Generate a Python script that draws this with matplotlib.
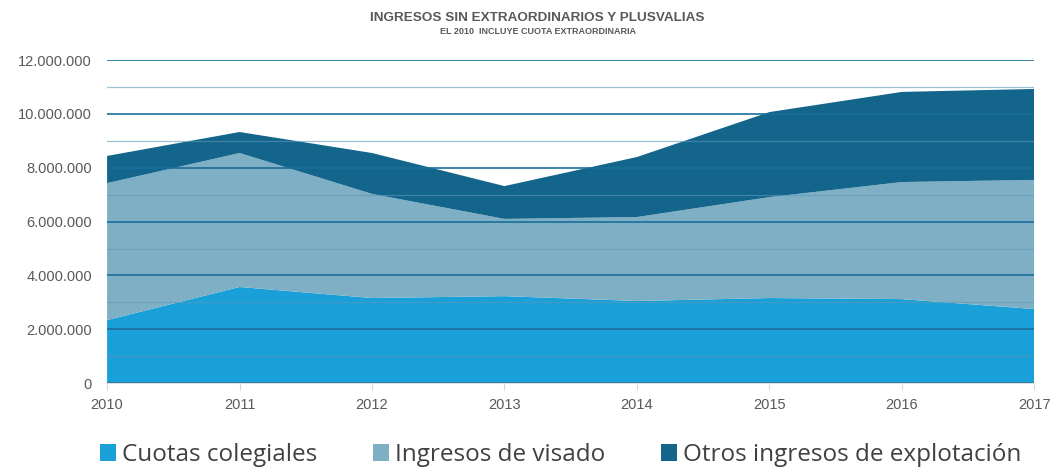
import numpy as np
import matplotlib.pyplot as plt
from matplotlib.ticker import FuncFormatter, MultipleLocator

years = [2010, 2011, 2012, 2013, 2014, 2015, 2016, 2017]
cuotas = [2.34, 3.57, 3.16, 3.23, 3.05, 3.16, 3.12, 2.75]
visado = [5.09, 4.98, 3.87, 2.87, 3.12, 3.75, 4.35, 4.80]
otros = [1.01, 0.78, 1.52, 1.22, 2.23, 3.16, 3.35, 3.38]
series_names = ['Cuotas colegiales', 'Ingresos de visado', 'Otros ingresos de explotación']
colors = ['#1aa0d8', '#7fafc4', '#13658c']

plt.rcParams['font.family'] = ['Liberation Sans', 'DejaVu Sans']

fig = plt.figure(figsize=(10.5, 4.7), dpi=100)
ax = fig.add_axes([0.102, 0.185, 0.883, 0.687])

vals = np.array([cuotas, visado, otros]) * 1e6
stk = ax.stackplot(years, vals, colors=colors, labels=series_names, lw=0, zorder=1)

ax.set_xlim(2010, 2017)
ax.set_ylim(0, 12e6)
ax.yaxis.set_major_locator(MultipleLocator(2e6))
ax.yaxis.set_minor_locator(MultipleLocator(1e6))
ax.yaxis.set_major_formatter(FuncFormatter(lambda v, p: '0' if v == 0 else f'{v:,.0f}'.replace(',', '.')))
ax.set_axisbelow(False)
ax.grid(axis='y', which='major', color='#1a6f9b', lw=1.2, zorder=3)
ax.grid(axis='y', which='minor', color='#5d97b8', lw=0.9, alpha=0.6, zorder=3)
ax.set_xticks(years)

for s in ['top', 'right', 'left']:
    ax.spines[s].set_visible(False)
ax.spines['bottom'].set_color('#d9d9d9')
ax.spines['bottom'].set_linewidth(1.2)
ax.tick_params(axis='y', which='both', length=0, labelsize=10.5, labelcolor='#595959', pad=11)
ax.tick_params(axis='x', length=5, color='#d9d9d9', labelsize=10.5, labelcolor='#595959', pad=6)

fig.text(0.512, 0.962, 'INGRESOS SIN EXTRAORDINARIOS Y PLUSVALIAS', ha='center', va='center',
         fontsize=9.7, fontweight='bold', color='#595959',
         family=['Liberation Sans Narrow', 'Liberation Sans', 'DejaVu Sans'])
fig.text(0.512, 0.932, 'EL 2010  INCLUYE CUOTA EXTRAORDINARIA', ha='center', va='center',
         fontsize=6.5, fontweight='bold', color='#595959',
         family=['Liberation Sans Narrow', 'Liberation Sans', 'DejaVu Sans'])

leg = fig.legend(loc='center', bbox_to_anchor=(0.534, 0.032), ncol=3, frameon=False,
                 handlelength=0.65, handleheight=0.65, handletextpad=0.25,
                 columnspacing=2.3, labelcolor='#404040',
                 prop={'family': ['Open Sans', 'DejaVu Sans'], 'size': 17.5})

fig.savefig('out.png', dpi=100)
